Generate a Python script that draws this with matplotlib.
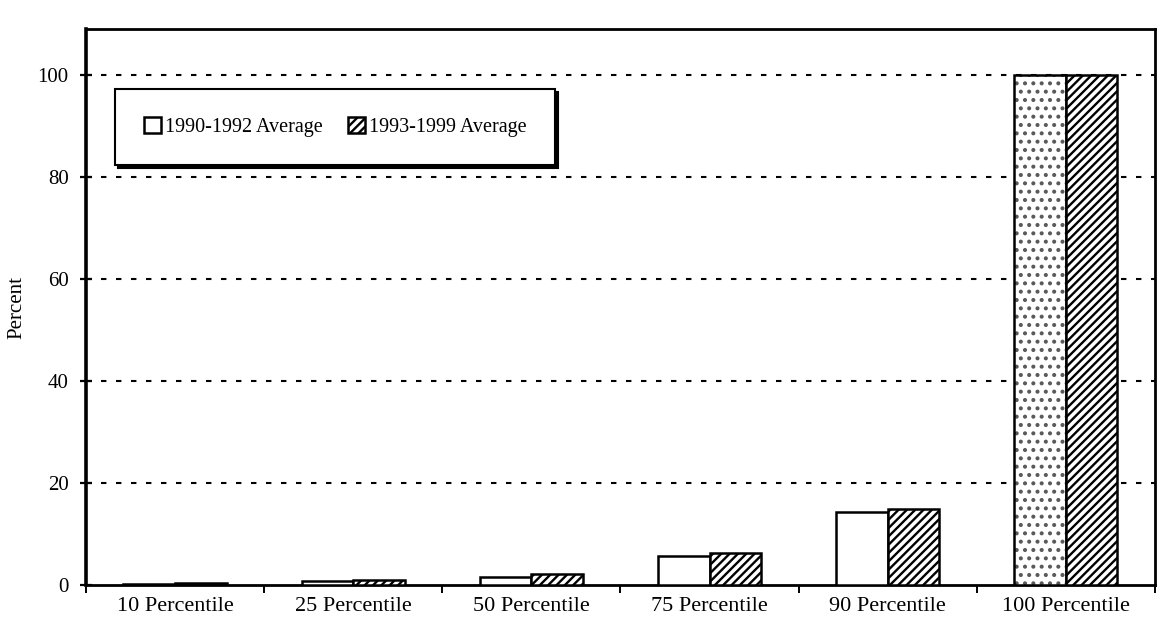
import numpy as np
import matplotlib
matplotlib.use("Agg")
from matplotlib import pyplot as plt

plt.rcParams['font.family'] = ['Liberation Serif', 'DejaVu Serif']
plt.rcParams['hatch.linewidth'] = 1.7

# Percentile values for the two averaging periods
categories = ["10 Percentile", "25 Percentile", "50 Percentile",
              "75 Percentile", "90 Percentile", "100 Percentile"]
avg_1990_1992 = [0.2, 0.7, 1.6, 5.6, 14.2, 100]
avg_1993_1999 = [0.3, 1.0, 2.2, 6.3, 14.9, 100]
series_names = ["1990-1992 Average", "1993-1999 Average"]
yticks = [0, 20, 40, 60, 80, 100]

fig = plt.figure(figsize=(11.63, 6.33), dpi=100)
ax = fig.add_axes([0.074, 0.076, 0.919, 0.878])

x = np.arange(len(categories))
w = 0.29

b1 = ax.bar(x - w / 2, avg_1990_1992, w, facecolor="white", edgecolor="black",
            linewidth=1.8, label=series_names[0], zorder=3)
b2 = ax.bar(x + w / 2, avg_1993_1999, w, facecolor="white", edgecolor="black",
            linewidth=1.8, hatch="////", label=series_names[1], zorder=3)

# stipple only shows up on the tall open bar
b1[-1].set_hatch("..")
b1[-1]._hatch_color = (0.35, 0.35, 0.35, 1.0)

ax.set_xlim(-0.5, len(categories) - 0.5)
ax.set_ylim(0, 109)

# dashed horizontal gridlines
for v in yticks[1:]:
    ax.axhline(v, color="black", linewidth=1.5, linestyle=(0, (2.6, 4.6)), zorder=1)

ax.set_yticks(yticks)
ax.tick_params(axis="y", direction="inout", length=9, width=1.6, pad=8,
               labelsize=15)

# category boundaries get tick marks, labels sit between them
ax.set_xticks(np.arange(len(categories) + 1) - 0.5)
ax.set_xticklabels([])
ax.tick_params(axis="x", which="major", direction="out", length=6, width=1.4)
ax.set_xticks(x, minor=True)
ax.set_xticklabels(categories, minor=True)
ax.tick_params(axis="x", which="minor", length=0, pad=9, labelsize=16)

for side in ["left", "bottom", "top", "right"]:
    ax.spines[side].set_linewidth(2.0)
    ax.spines[side].set_color("black")
ax.spines["left"].set_linewidth(2.6)

ax.set_ylabel("Percent", fontsize=15, labelpad=8)

leg = ax.legend(loc="lower left", bbox_to_anchor=(0.018, 0.737, 0.43, 0.13),
                mode="expand", ncol=2, fontsize=14.5, frameon=True, fancybox=False,
                framealpha=1, edgecolor="black", borderpad=1.4,
                handlelength=0.85, handleheight=0.85, handletextpad=0.2,
                shadow={"color": "black", "alpha": 1})
leg.get_frame().set_linewidth(1.5)
leg.set_zorder(5)
for h in leg.legend_handles:
    h.set_linewidth(1.8)

fig.savefig("out.png", dpi=100)
